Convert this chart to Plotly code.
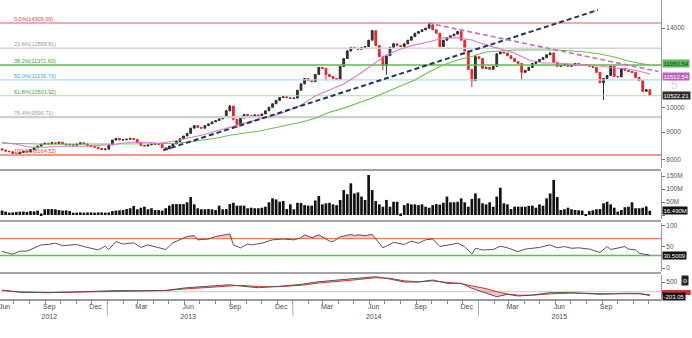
import numpy as np
import pandas as pd
import plotly.graph_objects as go

FONT = "Liberation Sans"

# ---------------- data (weekly) ----------------
week_start = "2012-06-08"
first_open = 8380
closes = [
    8340, 8300, 8280, 8210, 8180, 8250, 8300, 8270, 8350, 8420,
    8480, 8550, 8580, 8560, 8600, 8570, 8620, 8560, 8520, 8540,
    8510, 8550, 8600, 8560, 8500, 8460, 8440, 8400, 8350, 8370,
    8520, 8700, 8760, 8700, 8710, 8730, 8760, 8720, 8600, 8500,
    8480, 8520, 8550, 8560, 8540, 8420, 8380, 8480, 8560, 8650,
    8750, 8850, 8950, 9150, 9250, 9180, 9150, 9250, 9320, 9400,
    9450, 9520, 9600, 9850, 10050, 9500, 9300, 9550, 9700, 9650,
    9620, 9680, 9650, 9720, 9850, 10000, 10150, 10300, 10420, 10460,
    10420, 10380, 10400, 10750, 11050, 11300, 11200, 11150, 11500, 11850,
    11800, 11500, 11400, 11300, 11250, 11900, 12300, 12700, 12900, 12850,
    12800, 12900, 12950, 13300, 13850, 13000, 12400, 11950, 12450, 12900,
    13100, 13000, 12950, 13100, 13300, 13500, 13700, 13800, 13900, 14000,
    14200, 13900, 13700, 12950, 13300, 13450, 13550, 13650, 13800, 13300,
    12700, 11750, 11200, 12400, 12300, 11800, 11850, 11750, 11900, 12550,
    12650, 12600, 12450, 12300, 12150, 12050, 11600, 11700, 11850, 12050,
    12150, 12250, 12350, 12500, 12600, 12100, 11900, 11950, 12000, 11900,
    11950, 12050, 12000, 11950, 11980, 11900, 11850, 11600, 11100, 11300,
    11450, 11900, 11400, 11380, 11800, 11700, 11650, 11600, 11350, 11200,
    10700, 10780, 10522.21,
]
wick_high = {63: 9900, 64: 10100, 97: 12750, 104: 13900, 120: 14309, 133: 12500}
wick_low = {65: 9450, 66: 9150, 91: 11200, 107: 11700, 108: 11480, 132: 10900,
            146: 11230, 169: 10310}

volume_m = [
    17, 13, 9, 10, 12, 13, 13, 12, 15, 14,
    17, 6, 22, 23, 23, 22, 19, 17, 18, 15,
    9, 9, 10, 9, 10, 10, 9, 10, 10, 9,
    10, 15, 17, 18, 19, 23, 26, 35, 22, 28,
    32, 22, 26, 19, 19, 17, 26, 36, 42, 42,
    42, 42, 49, 69, 41, 26, 22, 22, 23, 22,
    19, 36, 22, 23, 42, 47, 36, 36, 36, 26,
    28, 26, 26, 28, 32, 49, 64, 60, 51, 54,
    23, 41, 22, 47, 46, 38, 36, 36, 56, 73,
    41, 45, 47, 41, 38,
    58, 96, 80, 122, 83, 87, 71, 58, 154, 96,
    54, 41, 32, 58, 32, 51, 51, 6, 38, 45,
    41, 41, 38, 41, 32, 28, 38, 42, 40,
    47, 71, 49, 49, 51, 64, 49, 32, 62, 83,
    64, 45, 41, 49, 32, 71, 105, 45, 41, 23,
    32, 32, 32, 32, 35, 36, 28, 41, 36, 64,
    83, 135, 69, 19, 22, 28, 22, 19, 18,
    17, 3, 15, 18, 22, 23, 45, 51, 41, 28,
    13, 19, 30, 32, 49, 26, 26, 28, 33, 16.49,
]

ma_weeks = list(range(0, 181, 4)) + [182]
ma_fast = [8618, 8545, 8436, 8436, 8472, 8472, 8472, 8508, 8545, 8618,
           8618, 8581, 8654, 8766, 8879, 9032, 9188, 9345, 9507, 9629,
           9837, 10092, 10488, 10759, 11039, 11471, 11970, 12492, 12816, 13037,
           13208, 13432, 13432, 13316, 13037, 12815, 12600, 12228, 12074, 12074,
           12022, 11970, 11920, 11819, 11768, 11618, 11512.54]
ma_slow = [8581, 8581, 8563, 8545, 8545, 8545, 8545, 8545, 8545, 8545,
           8545, 8563, 8581, 8618, 8691, 8766, 8879, 8956, 9032, 9149,
           9266, 9385, 9548, 9795, 9965, 10180, 10398, 10668, 10946, 11228,
           11618, 11970, 12228, 12412, 12652, 12706, 12760, 12760, 12760, 12760,
           12706, 12652, 12545, 12385, 12176, 12022, 11950.54]

rsi_weeks = [0, 1, 3, 5, 7, 9, 11, 13, 15, 17, 21, 23, 26, 27, 29, 30, 32, 34, 37, 39,
             41, 43, 46, 48, 50, 52, 54, 55, 58, 60, 64, 65, 67, 69, 70, 73, 76, 79, 82, 84,
             85, 87, 89, 92, 93, 95, 98, 99, 100, 102, 104, 105, 107, 110, 113, 115, 117, 119, 121, 123,
             126, 128, 130, 132, 133, 135, 138, 140, 142, 145, 147, 151, 154, 156, 158, 160, 162, 165, 168, 170,
             171, 175, 176, 178, 179, 182]
rsi_vals = [40, 37, 33, 40, 40, 47, 55, 56, 59, 53, 56, 51, 45, 43, 52, 44, 63, 57, 60, 49,
            55, 51, 44, 60, 67, 75, 77, 67, 69, 75, 81, 55, 48, 57, 55, 59, 67, 69, 67, 72,
            79, 72, 79, 64, 63, 74, 80, 77, 79, 77, 80, 69, 48, 61, 56, 64, 59, 67, 69, 51,
            56, 59, 51, 33, 47, 43, 44, 52, 48, 39, 45, 49, 55, 48, 51, 47, 48, 45, 37, 51,
            44, 51, 45, 43, 35, 30.5009]

macd_weeks = [0, 5, 13, 20, 27, 33, 40, 46, 52, 60, 64, 67, 72, 78, 84, 89, 98, 99, 105, 109,
              113, 117, 121, 125, 129, 132, 136, 139, 142, 145, 149, 154, 160, 168, 175, 179, 182]
macd_vals = [88, -30, -50, -15, 36, 60, 50, 70, 206, 290, 360, 290, 206, 280, 380, 515, 639, 654, 773, 654,
             500, 500, 603, 432, 432, 175, -82, -258, -134, -221, -170, -51, -51, -134, -82, -82, -203.05]
signal_vals = [60, -10, -45, -25, 20, 50, 55, 60, 150, 260, 320, 330, 260, 260, 330, 450, 590, 610, 720, 690,
               560, 510, 560, 480, 420, 300, 160, 0, -120, -180, -180, -110, -70, -100, -100, -110, -150]

fib_levels = [14309.00, 12858.81, 11971.60, 11236.76, 10501.92, 9590.71, 8164.52]
fib_labels = ["0.0%(14309.00)", "23.6%(12858.81)", "38.2%(11971.60)", "50.0%(11236.76)",
              "61.8%(10501.92)", "76.4%(9590.71)", "100.0%(8164.52)"]
fib_line_colors = ["#e25b5b", "#d2d2d2", "#62b94e", "#a9def0", "#b1db96", "#cfcfcf", "#f19a88"]
fib_line_widths = [1.2, 1.5, 1.5, 1.2, 1.2, 2.2, 2.2]
fib_text_colors = ["#d94040", "#9a9a9a", "#4ca03a", "#3aa8cc", "#4ca03a", "#9a9a9a", "#d94040"]

trend_up_dates = ["2013-04-21", "2015-08-24"]
trend_up_prices = [8328, 15122]
trend_down_dates = ["2014-09-24", "2015-12-21"]
trend_down_prices = [14309, 11640]

x_range = ["2012-06-04", "2015-12-26"]
month_tick_dates = ["2012-06-13", "2012-09-09", "2012-12-09", "2013-03-09", "2013-06-09",
                    "2013-09-09", "2013-12-09", "2014-03-09", "2014-06-09", "2014-09-09",
                    "2014-12-09", "2015-03-09", "2015-06-09", "2015-09-09"]
month_tick_text = ["Jun", "Sep<br>2012", "Dec", "Mar", "Jun<br>2013", "Sep", "Dec", "Mar",
                   "Jun<br>2014", "Sep", "Dec", "Mar", "Jun<br>2015", "Sep"]
year_starts = ["2013-01-01", "2014-01-01", "2015-01-01"]

# ---------------- derived ----------------
dates = pd.date_range(week_start, periods=len(closes), freq="7D")
opens = [first_open] + closes[:-1]
highs = [max(o, c) for o, c in zip(opens, closes)]
lows = [min(o, c) for o, c in zip(opens, closes)]
for k, v in wick_high.items():
    highs[k] = max(highs[k], v)
for k, v in wick_low.items():
    lows[k] = min(lows[k], v)

ma_dates = dates[ma_weeks]
rsi_dates = dates[rsi_weeks]
macd_dates = dates[macd_weeks]

fig = go.Figure()

# fib lines
for lv, col, w in zip(fib_levels, fib_line_colors, fib_line_widths):
    fig.add_trace(go.Scatter(x=x_range, y=[lv, lv], mode="lines",
                             line=dict(color=col, width=w), xaxis="x", yaxis="y",
                             hoverinfo="skip", showlegend=False))

# moving averages
fig.add_trace(go.Scatter(x=ma_dates, y=ma_slow, mode="lines", line=dict(color="#6cc04e", width=1.1),
                         xaxis="x", yaxis="y", showlegend=False))
fig.add_trace(go.Scatter(x=ma_dates, y=ma_fast, mode="lines", line=dict(color="#d77ccf", width=1.1),
                         xaxis="x", yaxis="y", showlegend=False))

# candles
fig.add_trace(go.Candlestick(x=dates, open=opens, high=highs, low=lows, close=closes,
                             increasing=dict(line=dict(color="#2a2a2a", width=1), fillcolor="#3a3a3a"),
                             decreasing=dict(line=dict(color="#e3232a", width=1), fillcolor="#ee2c30"),
                             whiskerwidth=0, xaxis="x", yaxis="y", showlegend=False))

# trend lines
fig.add_trace(go.Scatter(x=trend_up_dates, y=trend_up_prices, mode="lines",
                         line=dict(color="#22345a", width=2, dash="5px,3px"),
                         xaxis="x", yaxis="y", showlegend=False))
fig.add_trace(go.Scatter(x=trend_down_dates, y=trend_down_prices, mode="lines",
                         line=dict(color="#c46bc4", width=1.6, dash="5px,3px"),
                         xaxis="x", yaxis="y", showlegend=False))

# volume
fig.add_trace(go.Bar(x=dates, y=[v * 1e6 for v in volume_m], marker=dict(color="#111111", line=dict(width=0)),
                     xaxis="x2", yaxis="y2", showlegend=False))

# RSI
fig.add_trace(go.Scatter(x=x_range, y=[70, 70], mode="lines", line=dict(color="#ea7a62", width=1.2),
                         xaxis="x3", yaxis="y3", showlegend=False))
fig.add_trace(go.Scatter(x=x_range, y=[30, 30], mode="lines", line=dict(color="#5cc04a", width=1.5),
                         xaxis="x3", yaxis="y3", showlegend=False))
fig.add_trace(go.Scatter(x=rsi_dates, y=[70] * len(rsi_vals), mode="lines", line=dict(width=0),
                         xaxis="x3", yaxis="y3", showlegend=False, hoverinfo="skip"))
fig.add_trace(go.Scatter(x=rsi_dates, y=np.maximum(rsi_vals, 70), mode="lines", line=dict(width=0),
                         fill="tonexty", fillcolor="rgba(240,130,130,0.45)",
                         xaxis="x3", yaxis="y3", showlegend=False, hoverinfo="skip"))
fig.add_trace(go.Scatter(x=rsi_dates, y=rsi_vals, mode="lines", line=dict(color="#555555", width=1),
                         xaxis="x3", yaxis="y3", showlegend=False))

# MACD
fig.add_trace(go.Scatter(x=x_range, y=[0, 0], mode="lines", line=dict(color="#c8c8c8", width=1),
                         xaxis="x4", yaxis="y4", showlegend=False))
fig.add_trace(go.Scatter(x=macd_dates, y=signal_vals, mode="lines", line=dict(color="#d8332e", width=1),
                         xaxis="x4", yaxis="y4", showlegend=False))
fig.add_trace(go.Scatter(x=macd_dates, y=macd_vals, mode="lines", line=dict(color="#555555", width=1),
                         fill="tonexty", fillcolor="rgba(235,90,90,0.35)",
                         xaxis="x4", yaxis="y4", showlegend=False))

# ---------------- layout ----------------
W, H = 692, 338
PW = 661
tickfont = dict(family=FONT, size=6.5, color="#555555")

def yax(domain, rng, tv, tt, typ="linear"):
    return dict(domain=domain, range=rng, type=typ, side="right", showgrid=False, zeroline=False,
                showline=True, linecolor="#9a9a9a", linewidth=1, ticks="outside", ticklen=3,
                tickcolor="#777777", tickvals=tv, ticktext=tt, tickfont=tickfont, fixedrange=True)

def xax(anchor):
    return dict(anchor=anchor, range=x_range, type="date", showgrid=False, zeroline=False,
                showline=False, showticklabels=False, ticks="", rangeslider=dict(visible=False))

fig.update_layout(
    width=W, height=H, margin=dict(l=0, r=W - PW, t=0, b=38),
    paper_bgcolor="white", plot_bgcolor="white", bargap=0.25,
    font=dict(family=FONT, size=7, color="#444444"),
    xaxis=xax("y"), xaxis2=xax("y2"), xaxis3=xax("y3"),
    xaxis4=dict(anchor="y4", range=x_range, type="date", showgrid=False, zeroline=False,
                showline=True, linecolor="#9a9a9a", linewidth=2, ticks="",
                tickvals=month_tick_dates, ticktext=month_tick_text, ticklabeloverflow="allow",
                tickfont=dict(family=FONT, size=7, color="#4a4a4a"),
                minor=dict(ticks="outside", ticklen=3, tickcolor="#888888", tickmode="array",
                           tickvals=[d.strftime("%Y-%m-%d") for d in pd.date_range("2012-07-01", "2015-12-01", freq="MS")]),
                rangeslider=dict(visible=False)),
    yaxis=yax([0.44, 1.0], [np.log10(7725), np.log10(15779)], [8000, 9000, 10000, 14000],
              ["8000", "9000", "10000", "14000"], "log"),
    yaxis2=yax([0.27, 0.4267], [-15.4e6, 165.6e6], [0, 50e6, 100e6, 150e6], ["", "50M", "100M", "150M"]),
    yaxis3=yax([0.0967, 0.2567], [-7.1, 107.1], [0, 50, 100], ["0", "50", "100"]),
    yaxis4=yax([0.0033, 0.0833], [-376, 860], [500], ["500"]),
)

shapes = []
for py in [170, 221, 273]:
    yy = (300 - py) / 300
    shapes.append(dict(type="line", xref="paper", yref="paper", x0=0, x1=1, y0=yy, y1=yy,
                       line=dict(color="#a3a3a3", width=2)))
for d in year_starts:
    shapes.append(dict(type="line", xref="x4", yref="paper", x0=d, x1=d, y0=-0.005, y1=-0.055,
                       line=dict(color="#b0b0b0", width=1)))
# red signal tag peeking behind the MACD value tag
shapes.append(dict(type="rect", xref="paper", yref="paper", x0=1.0015, x1=1.045,
                   y0=(300 - 295) / 300, y1=(300 - 290) / 300, line=dict(width=0), fillcolor="#d8332e"))
fig.update_layout(shapes=shapes)

ann = []
for lv, lab, col in zip(fib_levels, fib_labels, fib_text_colors):
    ann.append(dict(xref="paper", yref="y", x=12 / PW, y=np.log10(lv), text=lab, showarrow=False,
                    xanchor="left", yanchor="bottom", yshift=-1,
                    font=dict(family=FONT, size=5.5, color=col)))

def tag(yref, y, text, bg, fg="white", yshift=0):
    return dict(xref="paper", yref=yref, x=1.0015, y=y, text=text, showarrow=False,
                xanchor="left", yanchor="middle", bgcolor=bg, borderpad=0.5, yshift=yshift,
                font=dict(family=FONT, size=6, color=fg))

ann.append(dict(xref="paper", yref="y", x=1.012, y=np.log10(11000), text="5", showarrow=False,
                xanchor="left", yanchor="middle", font=dict(family=FONT, size=12, color="#d6d6d6")))
ann.append(tag("y", np.log10(ma_slow[-1]), "11950.54", "#5cb85c", "#1b3b1b", yshift=2))
ann.append(tag("y", np.log10(ma_fast[-1]), "11512.54", "#c25dc2", yshift=-2))
ann.append(tag("y", np.log10(closes[-1]), "10522.21", "#2b2b2b"))
ann.append(tag("y2", volume_m[-1] * 1e6, "16.490M", "#111111"))
ann.append(tag("y3", rsi_vals[-1], "30.5009", "#111111"))
ann.append(tag("y4", macd_vals[-1], "-203.05", "#111111", yshift=-1))
ann.append(dict(xref="paper", yref="y4", x=1.031, y=560, text="o", showarrow=False,
                xanchor="left", yanchor="middle", bgcolor="#222222", borderpad=1,
                font=dict(family=FONT, size=7, color="white")))
fig.update_layout(annotations=ann)

fig.write_html("out.html")
